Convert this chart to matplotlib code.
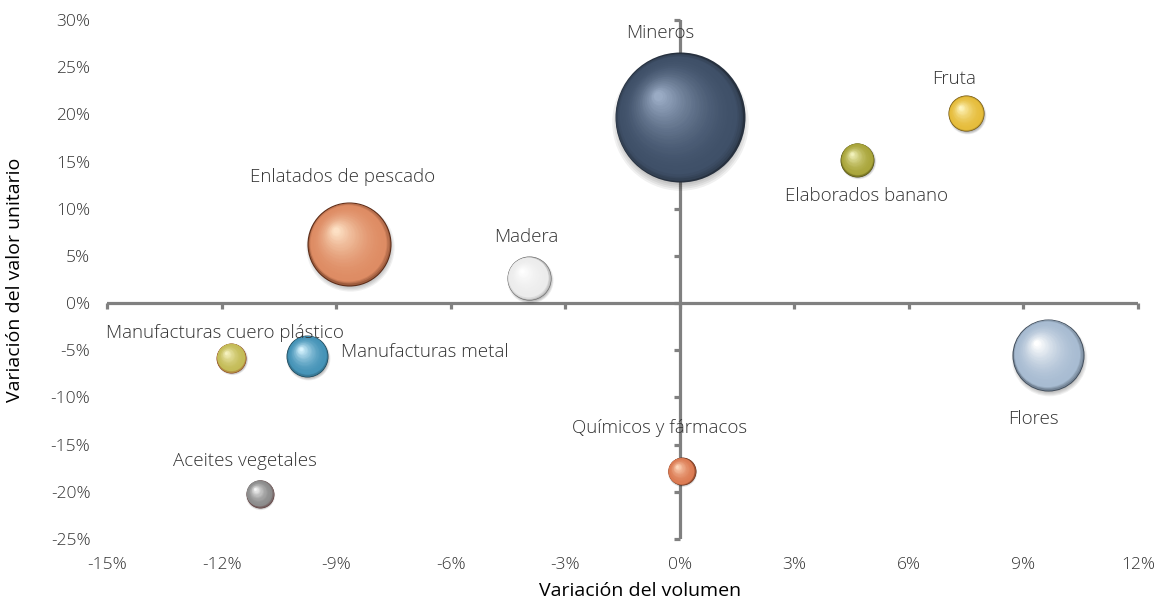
import numpy as np
import matplotlib
matplotlib.use("Agg")
import matplotlib.pyplot as plt
from matplotlib.colors import to_rgb
from matplotlib.transforms import ScaledTranslation
from matplotlib.ticker import FuncFormatter

plt.rcParams['font.family'] = ['Open Sans', 'DejaVu Sans']

# data (percent)
products = ['Mineros', 'Fruta', 'Elaborados banano', 'Enlatados de pescado', 'Madera',
            'Manufacturas cuero plástico', 'Manufacturas metal', 'Flores',
            'Químicos y fármacos', 'Aceites vegetales']
vol_change = [0.0, 7.5, 4.65, -8.65, -3.95, -11.75, -9.75, 9.65, 0.05, -11.0]
price_change = [19.7, 20.1, 15.2, 6.25, 2.65, -5.8, -5.6, -5.5, -17.8, -20.2]
bubble_size = [100, 7.7, 6.8, 41.8, 11.5, 5.3, 10.4, 30.7, 4.6, 4.6]

xticks = [-15, -12, -9, -6, -3, 0, 3, 6, 9, 12]
yticks = [-25, -20, -15, -10, -5, 0, 5, 10, 15, 20, 25, 30]

# sphere colours: rim, body, highlight
colors = [('#27313f', '#3f5068', '#9aabc4'),
          ('#6a5010', '#e6bd3c', '#fff6c0'),
          ('#4a480e', '#aaa63c', '#f2f2bc'),
          ('#5a2a16', '#de8c64', '#fde0c4'),
          ('#6a6a6a', '#ececec', '#ffffff'),
          ('#8a3414', '#c4bc58', '#f6f2c0'),
          ('#1a4050', '#4694b8', '#d8f4ff'),
          ('#3e4a58', '#a8bcd2', '#ffffff'),
          ('#5a2410', '#dc7c54', '#ffd8bc'),
          ('#5a3030', '#8c8c8c', '#f6f6f6')]

# label offsets in pixels (dx, dy) and alignment
label_off = [(-20, 84, 'center'), (-12, 34, 'center'), (9, -36, 'center'),
             (-7, 67, 'center'), (-3, 41, 'center'), (-6, 25, 'center'),
             (34, 4, 'left'), (-15, -64, 'center'), (-22, 43, 'center'),
             (-15, 33, 'center')]

fig = plt.figure(figsize=(11.57, 6.01), dpi=100)
ax = fig.add_axes([0.0925, 0.1032, 0.8911, 0.8635])
ax.set_xlim(-15, 12)
ax.set_ylim(-25, 30)
for s in ax.spines.values():
    s.set_visible(False)

axis_col = '#808080'
ax.axhline(0, color=axis_col, lw=2.3, zorder=1)
ax.axvline(0, color=axis_col, lw=2.3, zorder=1)
ax.plot(xticks, np.zeros(len(xticks)), ls='', marker=3, ms=4.5, mew=2.3,
        color=axis_col, zorder=1, clip_on=False)
ax.plot(np.zeros(len(yticks)), yticks, ls='', marker=0, ms=4.5, mew=2.3,
        color=axis_col, zorder=1, clip_on=False)

ax.set_xticks(xticks)
ax.set_yticks(yticks)
fmt = FuncFormatter(lambda v, p: f'{v:.0f}%')
ax.xaxis.set_major_formatter(fmt)
ax.yaxis.set_major_formatter(fmt)
ax.tick_params(length=0, labelsize=12.5, labelcolor='#333333')
ax.tick_params(axis='x', pad=13)
ax.tick_params(axis='y', pad=12)
for lab in ax.get_xticklabels() + ax.get_yticklabels():
    lab.set_fontweight('light')

ax.set_xlabel('Variación del volumen', fontsize=14, color='black')
ax.xaxis.set_label_coords(0.517, -0.082)
ax.set_ylabel('Variación del valor unitario', fontsize=14, color='black')
ax.yaxis.set_label_coords(-0.081, 0.5)


def lerp(a, b, t):
    a, b = np.array(to_rgb(a)), np.array(to_rgb(b))
    return tuple(a + (b - a) * t)


def shifted(dx, dy):
    return ax.transData + ScaledTranslation(dx / 72, dy / 72, fig.dpi_scale_trans)


max_r_px = 65
n_layers = 40
for i, name in enumerate(products):
    x, y = vol_change[i], price_change[i]
    r = max_r_px * np.sqrt(bubble_size[i] / 100) * 0.72  # radius in points
    rim, body, hi = colors[i]
    # soft shadow
    for k in range(6):
        rr = r * (1.05 - 0.03 * k)
        ax.scatter([x], [y], s=(2 * rr) ** 2, color='black', alpha=0.06, lw=0,
                   transform=shifted(0.5, -0.08 * r), zorder=2, clip_on=False)
    for k in range(n_layers):
        t = k / (n_layers - 1)
        rr = r * (1 - 0.93 * t)
        off = 0.33 * r * t
        if t < 0.1:
            c = lerp(rim, body, (t / 0.1) ** 0.5)
        else:
            c = lerp(body, hi, ((t - 0.1) / 0.9) ** 1.8)
        ax.scatter([x], [y], s=(2 * rr) ** 2, color=c, lw=0,
                   transform=shifted(-off, off), zorder=3, clip_on=False)
    dx, dy, ha = label_off[i]
    ax.annotate(name, (x, y), xytext=(dx * 0.72, dy * 0.72), textcoords='offset points',
                ha=ha, va='center', fontsize=13.5, fontweight='light',
                color='#333333', zorder=5)

fig.savefig('out.png', dpi=100)
